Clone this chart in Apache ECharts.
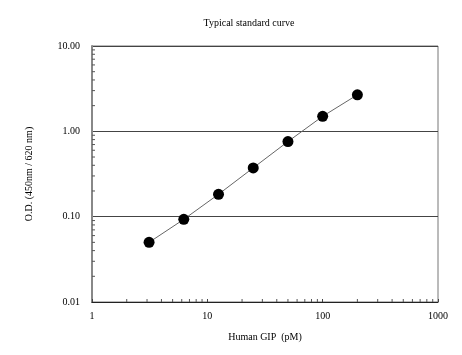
<!DOCTYPE html>
<html><head><meta charset="utf-8">
<script src="https://cdn.jsdelivr.net/npm/echarts@6/dist/echarts.min.js"></script>
<style>html,body{margin:0;padding:0;background:#fff}#c{width:462px;height:355px}</style>
</head><body><div id="c"></div>
<script>
const concentrations = [3.125, 6.25, 12.5, 25, 50, 100, 200];
const odValues = [0.050, 0.093, 0.183, 0.373, 0.759, 1.50, 2.68];
const xMinorTicks = [2,3,4,5,6,7,8,9,20,30,40,50,60,70,80,90,200,300,400,500,600,700,800,900];
const yMinorTicks = [0.02,0.03,0.04,0.05,0.06,0.07,0.08,0.09,0.2,0.3,0.4,0.5,0.6,0.7,0.8,0.9,2,3,4,5,6,7,8,9];
const titleText = 'Typical standard curve';
const xName = 'Human GIP  (pM)';
const yName = 'O.D. (450nm / 620 nm)';

const font = "'Liberation Serif', 'Times New Roman', serif";
const chart = echarts.init(document.getElementById('c'), null, {renderer: 'canvas'});
chart.setOption({
  animation: false,
  title: {text: titleText, left: 244, top: 13, textAlign: 'center',
    textStyle: {fontFamily: font, fontSize: 10, fontWeight: 'normal', color: '#000'}},
  grid: {left: 92, right: 24, top: 46, bottom: 53, show: true, borderColor: '#777', borderWidth: 1, backgroundColor: 'transparent'},
  xAxis: {type: 'log', logBase: 10, min: 1, max: 1000,
    name: xName, nameLocation: 'middle', nameGap: 30,
    nameTextStyle: {fontFamily: font, fontSize: 10, color: '#000'},
    axisLine: {lineStyle: {color: '#222', width: 1}},
    axisTick: {show: true, inside: true, length: 3, lineStyle: {color: '#444'}},
    axisLabel: {fontFamily: font, fontSize: 10, color: '#000', margin: 9,
      formatter: v => String(Math.round(v))},
    splitLine: {show: false}},
  yAxis: {type: 'log', logBase: 10, min: 0.01, max: 10,
    name: yName, nameLocation: 'middle', nameGap: 58, nameRotate: 90,
    nameTextStyle: {fontFamily: font, fontSize: 10, color: '#000'},
    axisLine: {lineStyle: {color: '#888', width: 2}},
    axisTick: {show: false},
    axisLabel: {fontFamily: font, fontSize: 10, color: '#000', margin: 12,
      formatter: v => Number(v).toFixed(2)},
    splitLine: {show: true, lineStyle: {color: '#444', width: 1}}},
  series: [
    {type: 'custom', silent: true, z: 1,
      data: xMinorTicks.map(v => [v, 0.01]),
      renderItem: (params, api) => {
        const p = api.coord([api.value(0), api.value(1)]);
        return {type: 'line', shape: {x1: p[0], y1: p[1], x2: p[0], y2: p[1] - 3},
          style: {stroke: '#555', lineWidth: 1}};
      }},
    {type: 'custom', silent: true, z: 1,
      data: yMinorTicks.map(v => [1, v]),
      renderItem: (params, api) => {
        const p = api.coord([api.value(0), api.value(1)]);
        return {type: 'line', shape: {x1: p[0], y1: p[1], x2: p[0] + 3, y2: p[1]},
          style: {stroke: '#555', lineWidth: 1}};
      }},
    {type: 'line', z: 3,
      data: concentrations.map((c, i) => [c, odValues[i]]),
      symbol: 'circle', symbolSize: 11,
      itemStyle: {color: '#000'},
      lineStyle: {color: '#666', width: 1}}
  ]
});
</script></body></html>
